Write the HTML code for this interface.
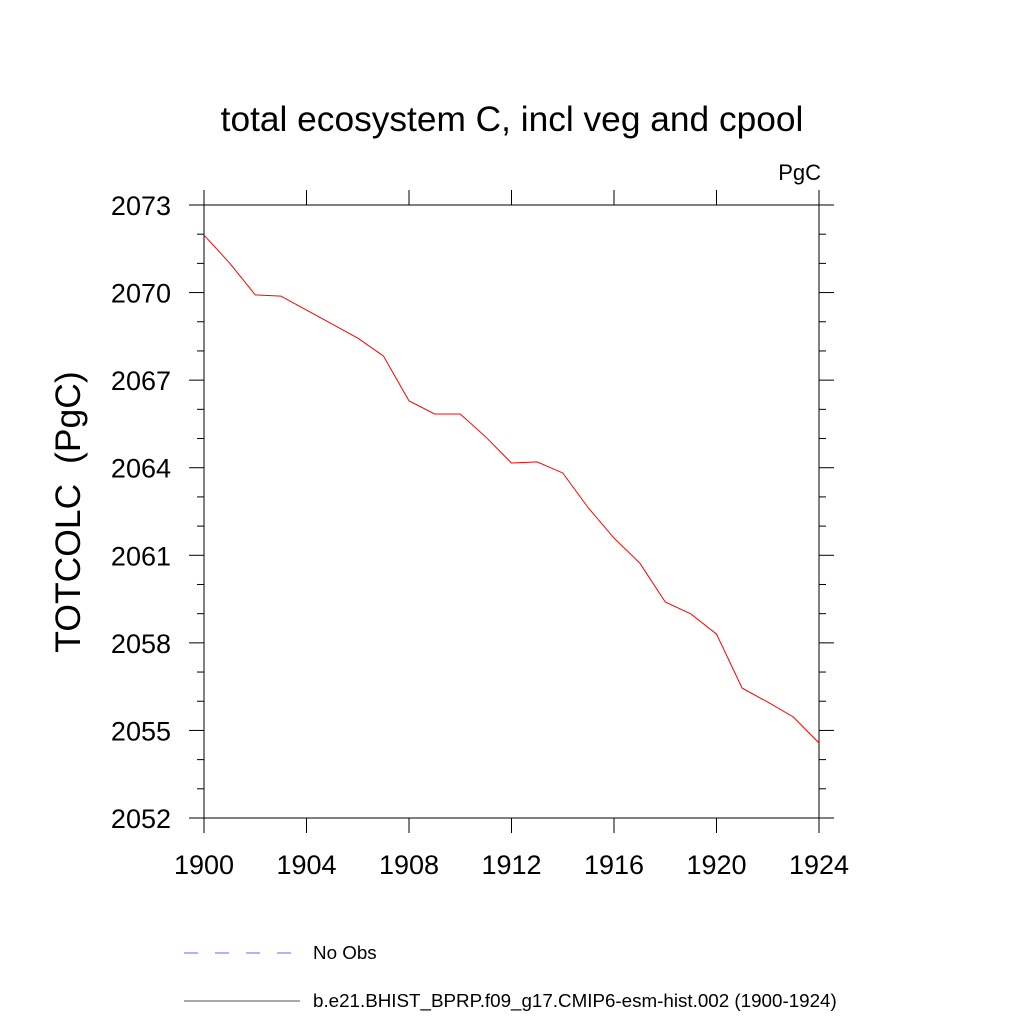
<!DOCTYPE html>
<html><head><meta charset="utf-8"><style>
body{margin:0;background:#fff;}
svg text{font-family:"Liberation Sans",sans-serif;}
</style></head><body>
<svg id="chart" width="1024" height="1024" viewBox="0 0 1024 1024">
<text x="512" y="131" font-size="35.3" text-anchor="middle">total ecosystem C, incl veg and cpool</text>
<text x="821" y="180" font-size="22" text-anchor="end">PgC</text>
<text transform="translate(80,512) rotate(-90)" font-size="35.5" text-anchor="middle" style="white-space:pre">TOTCOLC  (PgC)</text>
<g id="axes"></g>
<g id="series"></g>
<line x1="184" y1="953" x2="292" y2="953" stroke="#6666ff" stroke-width="1" stroke-dasharray="14,17"/>
<text x="313" y="959" font-size="18.8">No Obs</text>
<line x1="184" y1="1001" x2="300" y2="1001" stroke="#555" stroke-width="1"/>
<text x="313" y="1007" font-size="18.8">b.e21.BHIST_BPRP.f09_g17.CMIP6-esm-hist.002 (1900-1924)</text>
</svg>
<script>
const years=[1900,1901,1902,1903,1904,1905,1906,1907,1908,1909,1910,1911,1912,1913,1914,1915,1916,1917,1918,1919,1920,1921,1922,1923,1924];
const values=[2071.97,2071.01,2069.92,2069.88,2069.40,2068.92,2068.44,2067.83,2066.29,2065.84,2065.84,2065.05,2064.16,2064.20,2063.82,2062.62,2061.59,2060.74,2059.40,2058.99,2058.30,2056.45,2055.97,2055.46,2054.57];
const yTicks=[2052,2055,2058,2061,2064,2067,2070,2073];
const xTicks=[1900,1904,1908,1912,1916,1920,1924];
const L=204,R=819,T=205,B=818,X0=1900,X1=1924,Y0=2052,Y1=2073;
const sx=v=>L+(v-X0)/(X1-X0)*(R-L);
const sy=v=>B-(v-Y0)/(Y1-Y0)*(B-T);
const NS="http://www.w3.org/2000/svg";
const ax=document.getElementById('axes');
function ln(x1,y1,x2,y2,name){const e=document.createElementNS(NS,'line');
e.setAttribute('x1',x1);e.setAttribute('y1',y1);e.setAttribute('x2',x2);e.setAttribute('y2',y2);
e.setAttribute('stroke','#000');e.setAttribute('stroke-width','1');


ax.appendChild(e);return e;}
function tx(x,y,s,anchor,name){const e=document.createElementNS(NS,'text');
e.setAttribute('x',x);e.setAttribute('y',y);e.setAttribute('font-size','27');e.setAttribute('text-anchor',anchor);e.textContent=s;


ax.appendChild(e);}
const fr=document.createElementNS(NS,'rect');
fr.setAttribute('x',L);fr.setAttribute('y',T);fr.setAttribute('width',R-L);fr.setAttribute('height',B-T);
fr.setAttribute('fill','none');fr.setAttribute('stroke','#000');fr.setAttribute('stroke-width','1');


ax.appendChild(fr);
for(let v=Y0;v<=Y1;v++){const maj=(v-Y0)%3===0;const len=maj?15:7;const y=sy(v);
ln(L-len,y,L,y,'y-tick-left');ln(R,y,R+len,y,'y-tick-right');}
xTicks.forEach(v=>{const x=sx(v);ln(x,B,x,B+15,'x-tick-bottom');ln(x,T-15,x,T,'x-tick-top');});
yTicks.forEach(v=>tx(171,sy(v)+10,String(v),'end','y-tick-label'));
xTicks.forEach(v=>tx(sx(v),B+56,String(v),'middle','x-tick-label'));
const p=document.createElementNS(NS,'polyline');
p.setAttribute('points',years.map((y,i)=>sx(y)+','+sy(values[i])).join(' '));
p.setAttribute('fill','none');p.setAttribute('stroke','#ff0000');p.setAttribute('stroke-width','1');


document.getElementById('series').appendChild(p);
</script>
</body></html>
